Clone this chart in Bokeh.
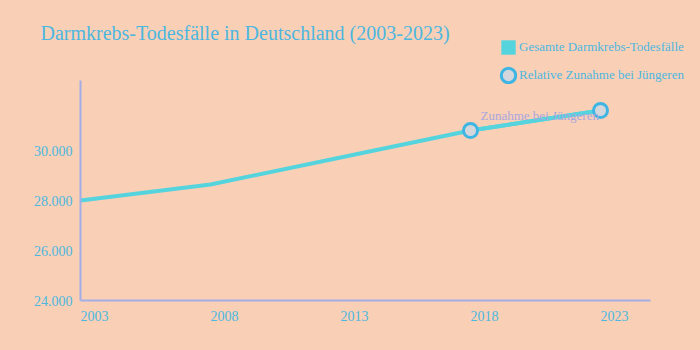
from bokeh.plotting import figure
from bokeh.models import (Range1d, FixedTicker, Legend, LegendItem, Label, ColumnDataSource,
                          LinearAxis, CustomJSTickFormatter)
from bokeh.embed import file_html
from bokeh.resources import INLINE

years = [2003, 2008, 2013, 2018, 2023]
deaths = [28000, 28640, 29720, 30800, 31600]
young_years = [2018, 2023]
young_values = [30800, 31600]
y_ticks = [24000, 26000, 28000, 30000]
y_tick_labels = ["24.000", "26.000", "28.000", "30.000"]
x_ticks = [2003, 2008, 2013, 2018, 2023]

BG = "#f9d0b6"
LINE = "#56d4de"
TXT = "#4cb7e0"
AXIS = "#a3aee8"
FONT = "Liberation Serif"
X_LABEL_SHIFT = 0.54  # labels sit to the right of their tick (left-anchored look)

p = figure(width=700, height=350, output_backend="svg", toolbar_location=None,
           x_range=Range1d(1999.923, 2026.846), y_range=Range1d(22000, 36000),
           x_axis_location=None, y_axis_location=None,
           min_border=0, background_fill_color=BG, border_fill_color=BG,
           outline_line_color=None)
p.styles = {"background-color": BG}
p.xgrid.visible = False
p.ygrid.visible = False

xaxis = LinearAxis(fixed_location=24000, bounds=(2003, 2024.92),
                   ticker=FixedTicker(ticks=[t + X_LABEL_SHIFT for t in x_ticks]),
                   formatter=CustomJSTickFormatter(code="return String(Math.floor(tick));"))
yaxis = LinearAxis(fixed_location=2003, bounds=(24000, 32800),
                   ticker=FixedTicker(ticks=y_ticks),
                   major_label_overrides={t: l for t, l in zip(y_ticks, y_tick_labels)})
for ax in (xaxis, yaxis):
    ax.axis_line_color = AXIS
    ax.axis_line_width = 2
    ax.major_tick_line_color = None
    ax.minor_tick_line_color = None
    ax.major_label_text_color = TXT
    ax.major_label_text_font = FONT
    ax.major_label_text_font_size = "14px"
xaxis.major_label_standoff = 4
yaxis.major_label_standoff = 2
p.add_layout(xaxis, "below")
p.add_layout(yaxis, "left")

title = Label(x=2001.462, y=34700, text="Darmkrebs-Todesfälle in Deutschland (2003-2023)",
              text_font=FONT, text_font_size="20px", text_color=TXT, text_baseline="middle")
p.add_layout(title)

src = ColumnDataSource(dict(x=years, y=deaths))
p.line("x", "y", source=src, line_color=LINE, line_width=4)
ysrc = ColumnDataSource(dict(x=young_years, y=young_values))
p.line("x", "y", source=ysrc, line_color=LINE, line_width=4)

ann = Label(x=2018.385, y=31400, text="Zunahme bei Jüngeren", text_font=FONT,
            text_font_size="13px", text_color="#a9a6de", text_baseline="middle")
p.add_layout(ann)

circ = p.ellipse("x", "y", source=ysrc, width=14, height=14, width_units="screen",
                 height_units="screen", fill_color="#d3d7dc", line_color="#3fb5e3",
                 line_width=3)

swatch = p.vbar(x="x", top="y", source=src, width=1, fill_color=LINE, line_color=None,
                visible=False)

legend = Legend(items=[LegendItem(label="Gesamte Darmkrebs-Todesfälle", renderers=[swatch]),
                       LegendItem(label="Relative Zunahme bei Jüngeren", renderers=[circ])],
                location=(499, 266), orientation="vertical",
                background_fill_alpha=0, border_line_color=None,
                inactive_fill_alpha=0,
                label_text_font=FONT, label_text_font_size="13px", label_text_color=TXT,
                glyph_width=18, glyph_height=18, label_standoff=2, spacing=10,
                padding=0, margin=0, label_height=18)
p.add_layout(legend)

open("out.html", "w").write(file_html(p, INLINE))
